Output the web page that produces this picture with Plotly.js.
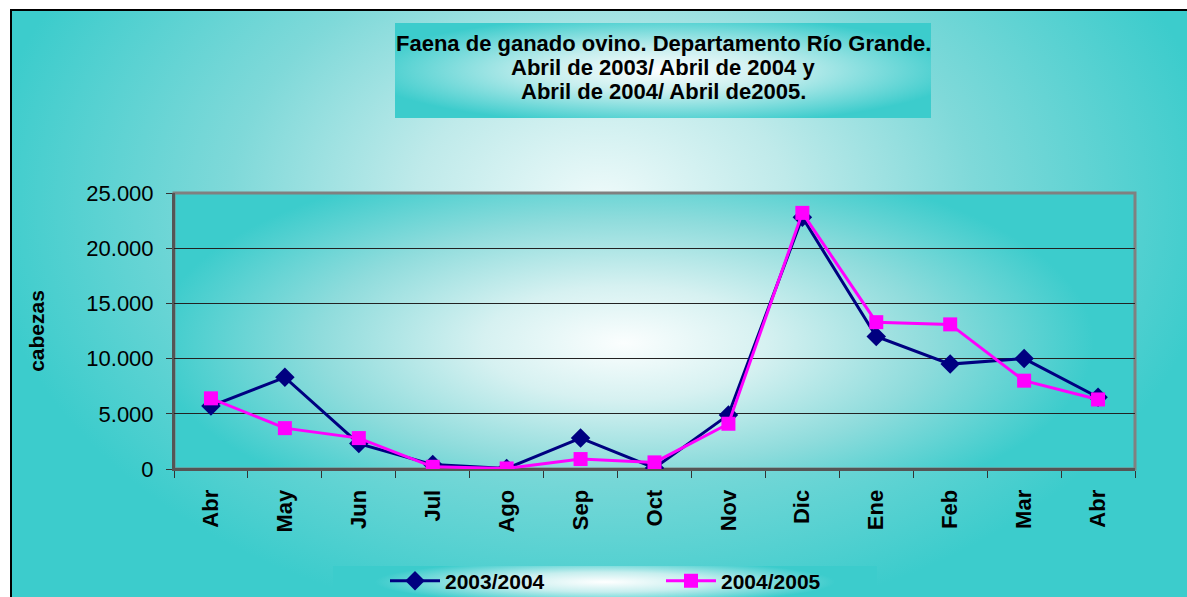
<!DOCTYPE html>
<html>
<head>
<meta charset="utf-8">
<script src="https://cdn.plot.ly/plotly-3.0.1.min.js"></script>
<style>
  html, body { margin:0; padding:0; background:#ffffff; }
  #wrap { position:relative; width:1187px; height:597px; overflow:hidden; background:#ffffff; }
  .bg { position:absolute; box-sizing:border-box; }
  #outer { left:10px; top:9px; width:1200px; height:620px; border-left:2px solid #000; border-top:2px solid #000;
    background: radial-gradient(ellipse 620px 430px at 590px 190px, #eefafa 0%, #bfeaea 30%, #7fd9d9 60%, #3ccccc 100%); }
  #plotbg { left:174px; top:193px; width:961px; height:276px;
    background: radial-gradient(ellipse 470px 190px at 450px 150px, #fbfefe 0%, #d6f1f1 30%, #8fdcdc 65%, #3ccccc 100%); }
  #titlebg { left:395px; top:23px; width:536px; height:95px;
    background: radial-gradient(ellipse 300px 55px at 50% 50%, #ffffff 0%, #c6eeee 40%, #3ccccc 100%); }
  #legbg { left:333px; top:566px; width:544px; height:40px;
    background: radial-gradient(ellipse 230px 22px at 50% 40%, #ffffff 0%, #c6eeee 45%, #3ccccc 100%); }
  #chart { position:absolute; left:0; top:0; width:1187px; height:597px; }
</style>
</head>
<body>
<div id="wrap">
  <div class="bg" id="outer"></div>
  <div class="bg" id="plotbg"></div>
  <div class="bg" id="titlebg"></div>
  <div class="bg" id="legbg"></div>
  <div id="chart"></div>
</div>
<script>
const months = ['Abr','May','Jun','Jul','Ago','Sep','Oct','Nov','Dic','Ene','Feb','Mar','Abr'];
const serie2003_2004 = [5700, 8300, 2300, 400, 50, 2800, 100, 4900, 22800, 12000, 9500, 10000, 6500];
const serie2004_2005 = [6400, 3700, 2800, 200, 50, 900, 600, 4100, 23200, 13300, 13100, 8000, 6300];
const seriesNames = ['2003/2004', '2004/2005'];
const titleLines = ['Faena de ganado ovino. Departamento Río Grande.', 'Abril de 2003/ Abril de 2004 y', 'Abril de 2004/ Abril de2005.'];
const yTitle = 'cabezas';

const xs = months.map((m, i) => i);
const FONT = '"Liberation Sans", Arial, sans-serif';

const L = 174, R = 1135, T = 193, B = 469;
const W = 1187, H = 597;
const pw = R - L;
const px = v => (v - L) / pw;
const cy = v => 1 - v / H;

const traces = [
  { x: xs, y: serie2003_2004, name: seriesNames[0], type: 'scatter', mode: 'lines+markers',
    line: { color: '#000080', width: 3 },
    marker: { symbol: 'diamond', size: 15, color: '#000080' } },
  { x: xs, y: serie2004_2005, name: seriesNames[1], type: 'scatter', mode: 'lines+markers',
    line: { color: '#FF00FF', width: 3 },
    marker: { symbol: 'square', size: 14, color: '#FF00FF' } }
];

const titleYs = [43, 67.5, 92];
const annotations = titleLines.map((t, i) => ({
  text: t, xref: 'paper', yref: 'paper', x: px(663), y: (B - titleYs[i]) / (B - T),
  xanchor: 'center', yanchor: 'middle', showarrow: false,
  font: { family: FONT, size: 22, color: '#000', weight: 'bold' }
}));

const layout = {
  width: W, height: H,
  margin: { l: L, r: W - R, t: T, b: H - B, pad: 0, autoexpand: false },
  paper_bgcolor: 'rgba(0,0,0,0)',
  plot_bgcolor: 'rgba(0,0,0,0)',
  separators: ',.',
  font: { family: FONT, color: '#000' },
  showlegend: true,
  legend: {
    orientation: 'h', x: px(385), y: cy(581), yref: 'container', xanchor: 'left', yanchor: 'middle',
    bgcolor: 'rgba(0,0,0,0)', borderwidth: 0,
    font: { family: FONT, size: 21, color: '#000', weight: 'bold' },
    entrywidth: 211, entrywidthmode: 'pixels', itemwidth: 50
  },
  xaxis: {
    range: [-0.5, 12.5], tickvals: xs, ticktext: months, tickangle: -90,
    ticks: '', showgrid: false, zeroline: false, automargin: false,
    tickfont: { family: FONT, size: 22, color: '#000', weight: 'bold' },
    showline: true, linecolor: '#555', linewidth: 2,
    minor: { tick0: 0.5, dtick: 1, ticks: 'outside', ticklen: 7, tickcolor: '#333', tickwidth: 1, showgrid: false },
    ticklabelstandoff: 10, fixedrange: true
  },
  yaxis: {
    range: [0, 25000], dtick: 5000, tickformat: ',d', automargin: false,
    ticks: 'outside', ticklen: 6, tickcolor: '#333', tickwidth: 1,
    showgrid: true, gridcolor: '#222', gridwidth: 1, zeroline: false,
    showline: true, linecolor: '#555', linewidth: 2,
    tickfont: { family: FONT, size: 22, color: '#000' },
    ticklabelstandoff: 8,
    title: { text: yTitle, font: { family: FONT, size: 21, color: '#000', weight: 'bold' }, standoff: 36 },
    fixedrange: true
  },
  shapes: [
    { type: 'rect', xref: 'paper', yref: 'paper', x0: 0, x1: 1, y0: 0, y1: 1,
      line: { color: '#808080', width: 3 }, layer: 'between' },
    { type: 'line', xref: 'paper', yref: 'paper', x0: 0, x1: 0, y0: 0, y1: 1,
      line: { color: '#555', width: 2 }, layer: 'between' },
    { type: 'line', xref: 'paper', yref: 'paper', x0: 0, x1: 1, y0: 0, y1: 0,
      line: { color: '#555', width: 2 }, layer: 'between' }
  ],
  annotations: annotations
};

Plotly.newPlot('chart', traces, layout, { displayModeBar: false, staticPlot: true });
</script>
</body>
</html>
